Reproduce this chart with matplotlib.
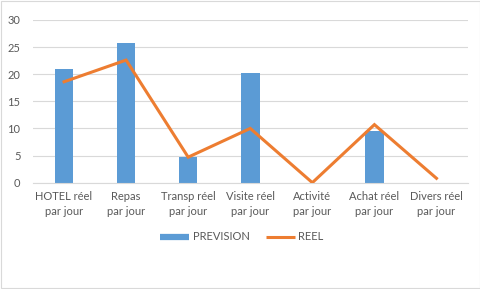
import matplotlib
matplotlib.use("Agg")
import matplotlib.pyplot as plt
import numpy as np
from matplotlib.patches import Rectangle
from matplotlib.lines import Line2D

categories = ["HOTEL réel\npar jour", "Repas\npar jour", "Transp réel\npar jour", "Visite réel\npar jour",
              "Activité\npar jour", "Achat réel\npar jour", "Divers réel\npar jour"]
prevision = [21.0, 25.8, 4.8, 20.3, 0, 9.6, 0]
reel = [18.6, 22.6, 4.7, 10.0, 0, 10.7, 0.8]
yticks = [0, 5, 10, 15, 20, 25, 30]

plt.rcParams['font.family'] = ['Lato', 'DejaVu Sans']
fig = plt.figure(figsize=(4.81, 2.89), dpi=100)
fig.patches.append(Rectangle((0.002, 0.003), 0.995, 0.993, transform=fig.transFigure,
                             fill=False, edgecolor='#d9d9d9', linewidth=0.8))
ax = fig.add_axes([0.0686, 0.368, 0.9034, 0.563])
x = np.arange(len(categories))
ax.bar(x, prevision, width=0.3, color='#5b9bd5', zorder=2)
ax.plot(x, reel, color='#ed7d31', linewidth=2.2, zorder=3, solid_joinstyle='miter')
ax.set_xlim(-0.5, len(categories) - 0.5)
ax.set_ylim(0, 30)
ax.set_yticks(yticks)
ax.grid(axis='y', color='#d9d9d9', linewidth=0.8, zorder=0)
for s in ['top', 'right', 'left']:
    ax.spines[s].set_visible(False)
ax.spines['bottom'].set_color('#d9d9d9')
ax.set_xticks(x)
ax.set_xticklabels(categories, linespacing=1.5)
ax.tick_params(axis='both', length=0, labelsize=8, colors='#595959')
ax.tick_params(axis='y', pad=9)
ax.tick_params(axis='x', pad=6)
handles = [Line2D([], [], color='#5b9bd5', linewidth=4.5, solid_capstyle='butt'),
           Line2D([], [], color='#ed7d31', linewidth=2.2, solid_capstyle='butt')]
leg = fig.legend(handles, ['PREVISION', 'REEL'], loc='center', bbox_to_anchor=(0.503, 0.18),
                 ncol=2, frameon=False, fontsize=8, handlelength=2.6, handletextpad=0.3,
                 columnspacing=1.5)
for t in leg.get_texts():
    t.set_color('#595959')
fig.savefig("out.png", dpi=100)
